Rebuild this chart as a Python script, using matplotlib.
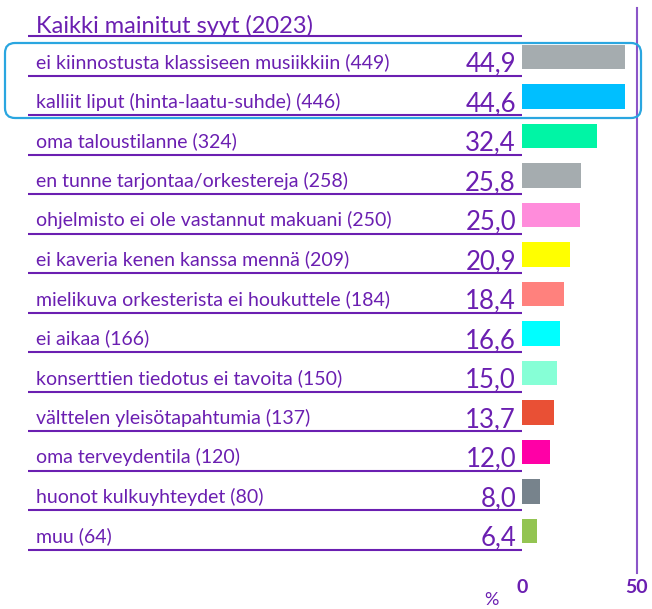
import matplotlib
matplotlib.use("Agg")
import matplotlib.pyplot as plt
from matplotlib.patches import FancyBboxPatch

TITLE = "Kaikki mainitut syyt (2023)"

LABELS = [
    "ei kiinnostusta klassiseen musiikkiin (449)",
    "kalliit liput (hinta-laatu-suhde) (446)",
    "oma taloustilanne (324)",
    "en tunne tarjontaa/orkestereja (258)",
    "ohjelmisto ei ole vastannut makuani (250)",
    "ei kaveria kenen kanssa mennä (209)",
    "mielikuva orkesterista ei houkuttele (184)",
    "ei aikaa (166)",
    "konserttien tiedotus ei tavoita (150)",
    "välttelen yleisötapahtumia (137)",
    "oma terveydentila (120)",
    "huonot kulkuyhteydet (80)",
    "muu (64)",
]

VALUES = [44.9, 44.6, 32.4, 25.8, 25.0, 20.9, 18.4, 16.6, 15.0, 13.7, 12.0, 8.0, 6.4]

BAR_COLORS = [
    "#A5ACAF", "#00BFFF", "#00F5A5", "#A5ACAF", "#FF8CDB", "#FFFF00", "#FF817D",
    "#00FFFF", "#86FFD6", "#E95035", "#FF00A6", "#77838C", "#93C452",
]

X_TICKS = [0, 50]

PURPLE = "#6B1FB1"
W, H = 652, 609
PX_PER_UNIT = 2.3
ROW_PX = 39.5


def fmt(v):
    return f"{v:.1f}".replace(".", ",")


def main():
    plt.rcParams["font.family"] = ["Lato", "DejaVu Sans"]

    fig = plt.figure(figsize=(W / 100, H / 100), dpi=100)
    fig.patch.set_facecolor("white")

    # axes: x=0 at 522 px, x=50 at 637 px; rows 39.5 px apart
    x0_px, top_px, bot_px = 522, 8, 573
    ax = fig.add_axes([x0_px / W, 1 - bot_px / H,
                       50 * PX_PER_UNIT / W, (bot_px - top_px) / H])
    first_row_px = 57
    ax.set_xlim(0, 50)
    ax.set_ylim((bot_px - first_row_px) / ROW_PX, -(first_row_px - top_px) / ROW_PX)
    ax.axis("off")

    left_line = (28 - x0_px) / PX_PER_UNIT
    left_text = (36 - x0_px) / PX_PER_UNIT
    val_x = (516 - x0_px) / PX_PER_UNIT
    line_off = 19 / ROW_PX

    ys = list(range(len(VALUES)))
    ax.barh(ys, VALUES, height=0.63, color=BAR_COLORS, left=0)

    # title row
    ax.text(left_text, -1 + 0.38, TITLE, fontsize=17, color=PURPLE,
            va="baseline", ha="left", clip_on=False)
    ax.plot([left_line, 0], [-1 + line_off] * 2, color=PURPLE, lw=1.5,
            clip_on=False, solid_capstyle="butt")

    for y, lab, v in zip(ys, LABELS, VALUES):
        ax.text(left_text, y + 0.28, lab, fontsize=14, color=PURPLE,
                va="baseline", ha="left", clip_on=False)
        ax.text(val_x, y + 0.37, fmt(v), fontsize=18.5, color=PURPLE,
                va="baseline", ha="right", clip_on=False)
        ax.plot([left_line, 0], [y + line_off] * 2, color=PURPLE, lw=1.5,
                clip_on=False, solid_capstyle="butt")

    # vertical reference line at 50
    ax.plot([50, 50], ax.get_ylim(), color="#8B55C8", lw=1.5, clip_on=False)

    # tick labels
    for t in X_TICKS:
        ax.text(t, (588 - first_row_px) / ROW_PX, str(t), fontsize=14,
                fontweight="bold", color=PURPLE, ha="center", va="center",
                clip_on=False)
    ax.text((491 - x0_px) / PX_PER_UNIT, (600 - first_row_px) / ROW_PX, "%",
            fontsize=13, color=PURPLE, ha="center", va="center", clip_on=False)

    # highlight box around top two rows
    box = FancyBboxPatch((0.05, (H - 118) / 100), 6.36, 0.75,
                         boxstyle="round,pad=0,rounding_size=0.1",
                         transform=fig.dpi_scale_trans, fill=False,
                         edgecolor="#2AA6E0", lw=1.6)
    fig.patches.append(box)

    fig.savefig("out.png", dpi=100)
    plt.close(fig)


if __name__ == "__main__":
    main()
